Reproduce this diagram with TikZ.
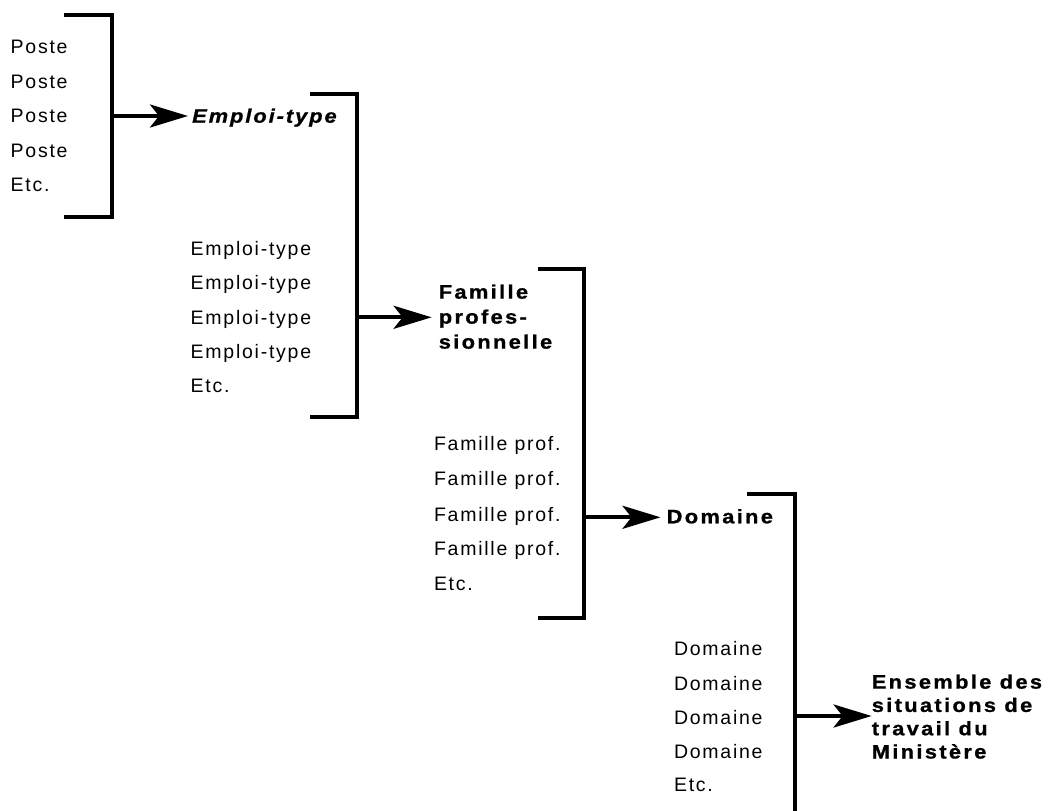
\documentclass[tikz,border=0pt]{standalone}
\usepackage{fontspec}
\setmainfont{Liberation Sans}
\newfontfamily\regfont[LetterSpace=9]{Liberation Sans}
\newfontfamily\boldfont[LetterSpace=12,FakeStretch=1.12,FakeBold=1]{Liberation Sans}
\newfontfamily\bitfont[LetterSpace=10,FakeStretch=1.12,FakeBold=1]{Liberation Sans}
\usetikzlibrary{arrows.meta}
\begin{document}
\begin{tikzpicture}[x=1pt,y=-1pt,
  bracket/.style={line width=4pt, line cap=butt, line join=miter},
  flow/.style={line width=4pt, -{Stealth[length=38pt,width=23pt,inset=9pt]}},
  item/.style={anchor=base west, inner sep=0pt, font=\regfont\fontsize{19.5}{24}\selectfont},
  headbase/.style={anchor=base west, inner sep=0pt, font=\boldfont\bfseries\fontsize{19.5}{24}\selectfont},
  headmulti/.style={anchor=north west, inner sep=0pt, align=left, font=\boldfont\bfseries\fontsize{19.5}{#1}\selectfont}]
\useasboundingbox (0,0) rectangle (1055,811);

% ---------- level 1 ----------
\foreach \i/\t/\y in {1/Poste/53.3, 2/Poste/88.3, 3/Poste/122.7, 4/Poste/157.7, 5/Etc./191.7}
  \node[item] (poste\i) at (10.5,\y) {\t};
\draw[bracket] (64,15) -- (111.5,15) -- (111.5,216.5) -- (64,216.5);
\coordinate (b1) at (111.5,116);
\node[anchor=base west, inner sep=0pt, font=\bitfont\bfseries\itshape\fontsize{19.5}{24}\selectfont] (emploi) at (192,122.7) {Emploi-type};
\draw[flow, shorten >=4pt] (b1) -- (b1 -| emploi.west);

% ---------- level 2 ----------
\foreach \i/\t/\y in {1/Emploi-type/255, 2/Emploi-type/289.3, 3/Emploi-type/324.3, 4/Emploi-type/358.3, 5/Etc./392.3}
  \node[item] (et\i) at (190.5,\y) {\t};
\draw[bracket] (310,94.3) -- (356.5,94.3) -- (356.5,417) -- (310,417);
\coordinate (b2) at (356.5,317.3);
\node[headmulti=25] (famille) at (438.6,284.3) {Famille\\profes-\\sionnelle};
\draw[flow, shorten >=7pt] (b2) -- (b2 -| famille.west);

% ---------- level 3 ----------
\foreach \i/\t/\y in {1/Famille prof./450, 2/Famille prof./485.5, 3/Famille prof./521, 4/Famille prof./555.5, 5/Etc./590}
  \node[item] (fp\i) at (433.8,\y) {\t};
\draw[bracket] (538,269) -- (583.5,269) -- (583.5,618) -- (538,618);
\coordinate (b3) at (583.5,517.3);
\node[headbase] (domaine) at (666.5,523.3) {Domaine};
\draw[flow, shorten >=6pt] (b3) -- (b3 -| domaine.west);

% ---------- level 4 ----------
\foreach \i/\t/\y in {1/Domaine/655, 2/Domaine/690, 3/Domaine/724, 4/Domaine/758.3, 5/Etc./791}
  \node[item] (dm\i) at (673.8,\y) {\t};
\draw[bracket] (747,494) -- (795,494) -- (795,815);
\coordinate (b4) at (795,716);
\node[headmulti=23.3] (ensemble) at (871.6,674.3) {Ensemble des\\situations de\\travail du\\Minist\`ere};
\draw[flow, shorten >=0pt] (b4) -- (b4 -| ensemble.west);
\end{tikzpicture}
\end{document}
